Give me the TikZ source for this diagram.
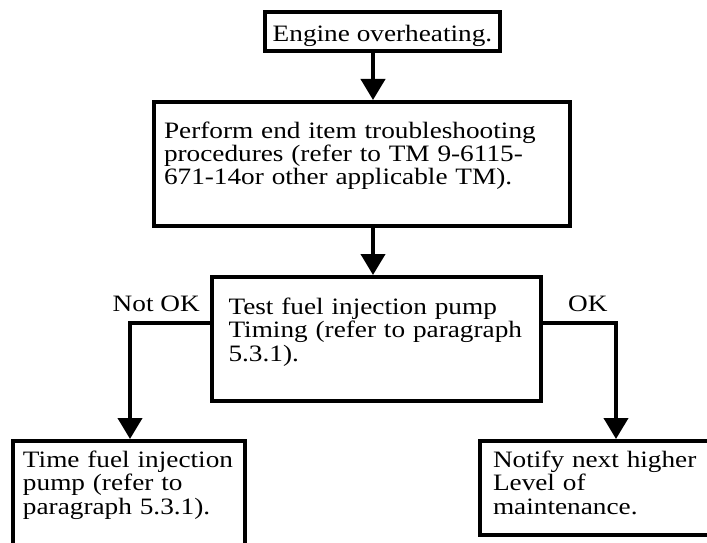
\documentclass[tikz,border=0pt]{standalone}
\usepackage{fontspec}
\setmainfont{Liberation Serif}[FakeStretch=1.16]
\usetikzlibrary{arrows.meta,positioning}

\begin{document}
\begin{tikzpicture}[
  x=1pt,y=-1pt,
  txt/.style={font=\fontsize{23.5}{23.5}\selectfont},
  stepbox/.style={draw,txt,line width=4pt,inner ysep=0pt,anchor=north west,align=left},
  flow/.style={line width=4pt,line join=miter,-{Triangle[width=24pt,length=21pt]}}
]
  \useasboundingbox (0,0) rectangle (707,543);
  \clip (0,0) rectangle (707,543);

  \node[stepbox,minimum width=235pt,text height=29.5pt,text depth=9.5pt,align=center] (engine) at (263,10) {Engine overheating.};
  \node[stepbox,inner xsep=10pt,text width=396pt,text height=36pt,text depth=88pt] (perform) at (152,100)
    {Perform end item troubleshooting\\procedures (refer to TM 9-6115-\\671-14or other applicable TM).};
  \node[stepbox,inner xsep=16.5pt,text width=296pt,text height=37pt,text depth=87pt] (test) at (210,275)
    {Test fuel injection pump\\Timing (refer to paragraph\\5.3.1).};
  \node[stepbox,inner xsep=10pt,text width=212pt,text height=26pt,text depth=94pt] (timefix) at (11,439)
    {Time fuel injection\\pump (refer to\\paragraph 5.3.1).};
  \node[stepbox,inner xsep=13pt,text width=206pt,text height=26pt,text depth=68pt] (notify) at (478,439)
    {Notify next higher\\Level of\\maintenance.};

  \coordinate (spine) at (373,0);
  \coordinate (leftdrop) at (130,323);
  \coordinate (rightdrop) at (616,323);

  \draw[flow] (engine.south -| spine) -- (perform.north -| spine);
  \draw[flow] (perform.south -| spine) -- (test.north -| spine);
  \draw[flow] (test.west |- leftdrop) -| (timefix.north -| leftdrop);
  \draw[flow] (test.east |- rightdrop) -| (notify.north -| rightdrop);

  \coordinate (notokpt) at (test.west |- leftdrop);
  \coordinate (okpt) at (test.east |- rightdrop);
  \node[txt,inner sep=0pt,above left=11pt and 10pt of notokpt] (notok) {Not OK};
  \node[txt,inner sep=0pt,above right=11pt and 25pt of okpt] (ok) {OK};
\end{tikzpicture}
\end{document}
